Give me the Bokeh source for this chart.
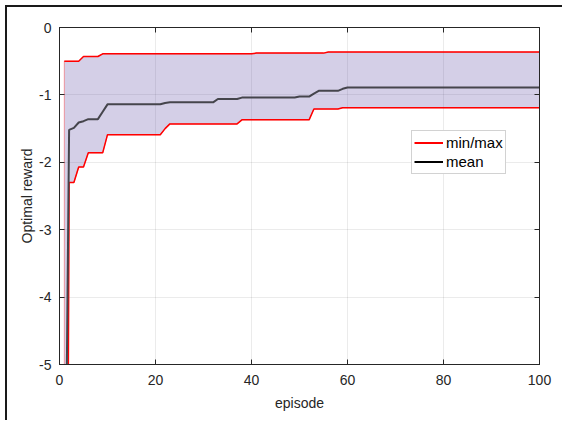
from bokeh.plotting import figure
from bokeh.models import LinearAxis, Legend, LegendItem, Range1d, FixedTicker
from bokeh.embed import file_html
from bokeh.resources import INLINE

episodes = list(range(1, 101))

reward_max = [
    -0.50, -0.50, -0.50, -0.50, -0.43, -0.43, -0.43, -0.43, -0.39, -0.39,
    -0.39, -0.39, -0.39, -0.39, -0.39, -0.39, -0.39, -0.39, -0.39, -0.39,
    -0.39, -0.39, -0.39, -0.39, -0.39, -0.39, -0.39, -0.39, -0.39, -0.39,
    -0.39, -0.39, -0.39, -0.39, -0.39, -0.39, -0.39, -0.39, -0.39, -0.39,
    -0.38, -0.38, -0.38, -0.38, -0.38, -0.38, -0.38, -0.38, -0.38, -0.38,
    -0.38, -0.38, -0.38, -0.38, -0.38, -0.365, -0.365, -0.365, -0.365, -0.365,
    -0.365, -0.365, -0.365, -0.365, -0.365, -0.365, -0.365, -0.365, -0.365, -0.365,
    -0.365, -0.365, -0.365, -0.365, -0.365, -0.365, -0.365, -0.365, -0.365, -0.365,
    -0.365, -0.365, -0.365, -0.365, -0.365, -0.365, -0.365, -0.365, -0.365, -0.365,
    -0.365, -0.365, -0.365, -0.365, -0.365, -0.365, -0.365, -0.365, -0.365, -0.365,
]

reward_min = [
    -20.0, -2.30, -2.30, -2.07, -2.07, -1.86, -1.86, -1.86, -1.86, -1.59,
    -1.59, -1.59, -1.59, -1.59, -1.59, -1.59, -1.59, -1.59, -1.59, -1.59,
    -1.59, -1.50, -1.43, -1.43, -1.43, -1.43, -1.43, -1.43, -1.43, -1.43,
    -1.43, -1.43, -1.43, -1.43, -1.43, -1.43, -1.43, -1.37, -1.37, -1.37,
    -1.37, -1.37, -1.37, -1.37, -1.37, -1.37, -1.37, -1.37, -1.37, -1.37,
    -1.37, -1.37, -1.21, -1.21, -1.21, -1.21, -1.21, -1.21, -1.19, -1.19,
    -1.19, -1.19, -1.19, -1.19, -1.19, -1.19, -1.19, -1.19, -1.19, -1.19,
    -1.19, -1.19, -1.19, -1.19, -1.19, -1.19, -1.19, -1.19, -1.19, -1.19,
    -1.19, -1.19, -1.19, -1.19, -1.19, -1.19, -1.19, -1.19, -1.19, -1.19,
    -1.19, -1.19, -1.19, -1.19, -1.19, -1.19, -1.19, -1.19, -1.19, -1.19,
]

reward_mean = [
    -9.00, -1.52, -1.49, -1.41, -1.39, -1.36, -1.36, -1.36, -1.25, -1.14,
    -1.14, -1.14, -1.14, -1.14, -1.14, -1.14, -1.14, -1.14, -1.14, -1.14,
    -1.14, -1.12, -1.11, -1.11, -1.11, -1.11, -1.11, -1.11, -1.11, -1.11,
    -1.11, -1.11, -1.06, -1.06, -1.06, -1.06, -1.06, -1.04, -1.04, -1.04,
    -1.04, -1.04, -1.04, -1.04, -1.04, -1.04, -1.04, -1.04, -1.04, -1.025,
    -1.025, -1.025, -0.98, -0.94, -0.94, -0.94, -0.94, -0.94, -0.91, -0.89,
    -0.89, -0.89, -0.89, -0.89, -0.89, -0.89, -0.89, -0.89, -0.89, -0.89,
    -0.89, -0.89, -0.89, -0.89, -0.89, -0.89, -0.89, -0.89, -0.89, -0.89,
    -0.89, -0.89, -0.89, -0.89, -0.89, -0.89, -0.89, -0.89, -0.89, -0.89,
    -0.89, -0.89, -0.89, -0.89, -0.89, -0.89, -0.89, -0.89, -0.89, -0.89,
]

x_ticks = [0, 20, 40, 60, 80, 100]
y_ticks = [-5, -4, -3, -2, -1, 0]
y_tick_labels = {-5: "-5", -4: "-4", -3: "-3", -2: "-2", -1: "-1", 0: "0"}

FONT = "Liberation Sans"
AX = "#262626"

p = figure(
    frame_width=480, frame_height=337,
    min_border_left=52, min_border_right=23, min_border_top=20, min_border_bottom=56,
    x_range=Range1d(0, 100), y_range=Range1d(-5, 0),
    output_backend="svg", toolbar_location=None,
    background_fill_color="white", border_fill_color="white",
    stylesheets=[":host { margin-left: 5px; margin-top: 5px; "
                 "border-left: 2px solid #1a1a1a; border-top: 2px solid #1a1a1a; }"],
)
p.outline_line_color = AX
p.outline_line_width = 1

# fill band
band_x = episodes + episodes[::-1]
band_y = reward_min + reward_max[::-1]
p.patch(band_x, band_y, fill_color="#533F9F", fill_alpha=0.25,
        line_color="#FF0000", line_alpha=0.35, line_width=1)

p.line(episodes, reward_max, line_color="#FF0000", line_width=1.5)
p.line(episodes, reward_min, line_color="#FF0000", line_width=1.5)
p.line(episodes, reward_mean, line_color="#45454c", line_width=2)

# legend proxies (drawn nowhere: all-NaN values)
nan_y = [float("nan")] * len(episodes)
r_red = p.line(episodes, nan_y, line_color="#FF0000", line_width=2)
r_blk = p.line(episodes, nan_y, line_color="#000000", line_width=2)
legend = Legend(items=[LegendItem(label="min/max", renderers=[r_red]),
                       LegendItem(label="mean", renderers=[r_blk])],
                location=(352, 190))
legend.label_text_font = FONT
legend.label_text_font_size = "15px"
legend.label_text_color = "#000000"
legend.glyph_width = 29
legend.glyph_height = 19
legend.label_height = 19
legend.label_standoff = 3
legend.spacing = 0
legend.padding = 2
legend.margin = 0
legend.border_line_color = "#A6A6A6"
legend.border_line_width = 1
legend.background_fill_alpha = 1
p.add_layout(legend, "center")

# grid
for g in (p.xgrid, p.ygrid):
    g.grid_line_color = "#000000"
    g.grid_line_alpha = 0.08
    g.grid_line_width = 1
p.xgrid.ticker = FixedTicker(ticks=x_ticks)
p.ygrid.ticker = FixedTicker(ticks=y_ticks)

def style_axis(ax, show_labels=True):
    ax.axis_line_color = AX
    ax.major_tick_line_color = AX
    ax.major_tick_in = 5
    ax.major_tick_out = 0
    ax.minor_tick_line_color = None
    ax.major_label_text_font = FONT
    ax.major_label_text_font_size = "14px"
    ax.major_label_text_color = AX if show_labels else None
    ax.axis_label_text_font = FONT
    ax.axis_label_text_font_size = "14px"
    ax.axis_label_text_font_style = "normal"
    ax.axis_label_text_color = AX

xa = p.xaxis[0]
xa.ticker = FixedTicker(ticks=x_ticks)
style_axis(xa)
xa.axis_label = "episode"
xa.major_label_standoff = 10
xa.axis_label_standoff = 7

ya = p.yaxis[0]
ya.ticker = FixedTicker(ticks=y_ticks)
ya.major_label_overrides = y_tick_labels
style_axis(ya)
ya.axis_label = "Optimal reward"
ya.major_label_standoff = 8
ya.axis_label_standoff = 1

top = LinearAxis(ticker=FixedTicker(ticks=x_ticks))
style_axis(top, False)
top.major_label_standoff = 0
p.add_layout(top, "above")
right = LinearAxis(ticker=FixedTicker(ticks=y_ticks))
style_axis(right, False)
right.major_label_standoff = 0
p.add_layout(right, "right")

open("out.html", "w").write(file_html(p, INLINE))
